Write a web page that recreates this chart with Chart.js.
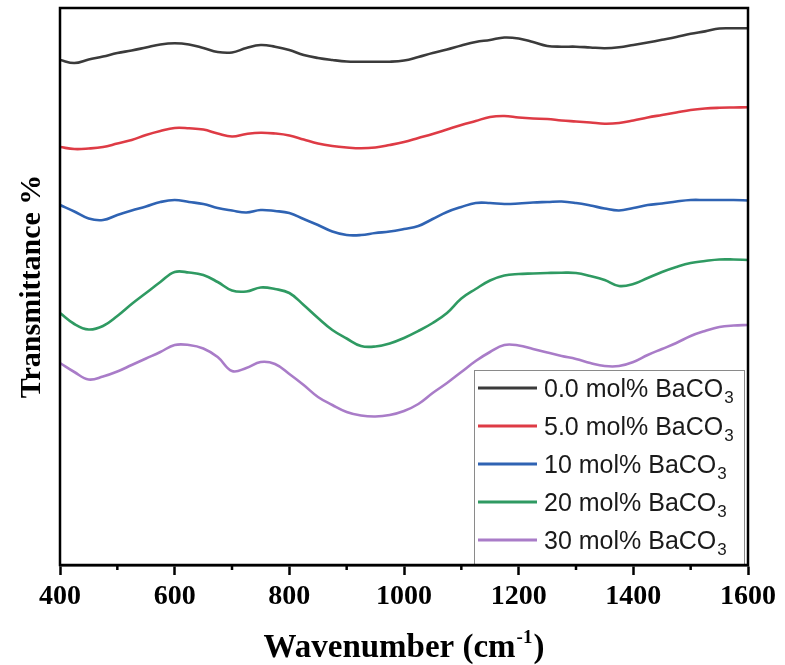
<!DOCTYPE html>
<html>
<head>
<meta charset="utf-8">
<script src="https://cdn.jsdelivr.net/npm/chart.js@4.4.1/dist/chart.umd.min.js"></script>
<style>
  body { margin: 0; background: #fff; }
  #wrap { width: 785px; height: 665px; position: relative; }
</style>
</head>
<body>
<div id="wrap"><canvas id="ftir-chart"></canvas></div>
<script>
var wavenumber = [400, 425, 450, 475, 500, 525, 550, 575, 600, 625, 650, 675, 700, 725, 750, 775, 800, 825, 850, 875,
  900, 925, 950, 975, 1000, 1025, 1050, 1075, 1100, 1125, 1150, 1175, 1200, 1225, 1250, 1275, 1300, 1325, 1350, 1375,
  1400, 1425, 1450, 1475, 1500, 1525, 1550, 1575, 1600];

// transmittance, arbitrary units (curves stacked with offsets)
var ba0 = [505, 502, 505.5, 508.5, 512, 514.5, 517.5, 520.5, 521.7, 520.5, 517, 513, 512.5, 517, 520, 518.3, 515, 510, 507, 505,
  503.5, 503.3, 503.3, 503.3, 504.5, 508, 512, 515.5, 519.5, 523, 525, 527.5, 526.5, 523, 519, 518.3, 518.3, 517.5, 516.8, 517.7,
  520, 522.5, 525.2, 528, 531.3, 533.6, 536.5, 536.7, 536.7];
var ba5 = [418, 416, 416.5, 418, 421.5, 425, 430, 434, 437, 436.7, 435.5, 431.5, 428.5, 431, 432.3, 431.5, 429.5, 425.5, 421.5, 419,
  417.5, 416.7, 417.5, 420, 423, 427, 431, 435.5, 440, 444, 448, 449, 447.5, 446.5, 446, 444.5, 443.5, 442.5, 441.3, 442,
  444.5, 447.5, 450, 452.5, 455, 456.5, 457.2, 457.5, 457.7];
var ba10 = [360, 353.5, 346.5, 345, 350, 354.5, 358.5, 363, 365, 363, 361, 357, 354.5, 352.5, 355, 354, 352, 346, 340, 333.5,
  330, 330, 332, 333.5, 336, 339, 346, 353, 358, 362, 362, 361, 361.5, 362.5, 363, 363.5, 362, 359.5, 356.5, 354.5,
  357, 360, 361.5, 363.5, 365, 365, 365, 365, 364.5];
var ba20 = [252, 241, 235.5, 239, 249, 261, 272, 283, 293, 292.5, 290, 283, 274.5, 273.5, 277.5, 276, 272, 260, 247, 235,
  226.5, 219, 218.5, 221.5, 227, 234, 242, 252, 266.5, 276, 284.5, 289.5, 291, 291.5, 292, 292.3, 292, 289, 285, 279,
  281, 287, 293, 298, 302, 304, 305.5, 305.5, 305];
var ba30 = [202, 193, 185.5, 188.5, 193.5, 200, 206.5, 213, 220, 220, 216.5, 208, 194, 197, 203, 201, 191, 180, 168, 160,
  153, 149.5, 148.5, 150, 154, 161, 172, 182, 193, 204, 213, 220, 219.5, 216, 212.5, 209, 206, 202, 199, 199,
  203, 210, 216, 222, 229, 234, 238, 239.5, 240];

var seriesNames = ['0.0 mol% BaCO', '5.0 mol% BaCO', '10 mol% BaCO', '20 mol% BaCO', '30 mol% BaCO'];
var seriesSub = '3';
var seriesColors = ['#3b3b3b', '#de3b45', '#2f63b3', '#2f9a62', '#a97cc8'];
var minorTicks = [500, 700, 900, 1100, 1300, 1500];

function makeSet(i, vals) {
  var pts = [];
  for (var k = 0; k < wavenumber.length; k++) {
    pts.push({x: wavenumber[k], y: vals[k]});
  }
  return {
    label: seriesNames[i] + seriesSub,
    data: pts,
    borderColor: seriesColors[i],
    backgroundColor: seriesColors[i],
    borderWidth: 2.6,
    pointRadius: 0,
    tension: 0.4,
    fill: false
  };
}

var framePlugin = {
  id: 'frame',
  afterDraw: function (chart) {
    var ctx = chart.ctx;
    var a = chart.chartArea;
    var xs = chart.scales.x;
    ctx.save();

    // minor ticks
    ctx.strokeStyle = '#000';
    ctx.lineWidth = 2.5;
    for (var i = 0; i < minorTicks.length; i++) {
      var px = xs.getPixelForValue(minorTicks[i]);
      ctx.beginPath();
      ctx.moveTo(px, a.bottom);
      ctx.lineTo(px, a.bottom + 5);
      ctx.stroke();
    }

    // legend
    var lx = a.right - 274, ly = a.bottom - 195, lw = 270, lh = 195;
    ctx.fillStyle = '#fff';
    ctx.fillRect(lx, ly, lw, lh);
    ctx.strokeStyle = '#8a8a8a';
    ctx.lineWidth = 1;
    ctx.strokeRect(lx + 0.5, ly + 0.5, lw, lh);
    for (var j = 0; j < seriesNames.length; j++) {
      var ry = ly + 18 + j * 38;
      ctx.strokeStyle = seriesColors[j];
      ctx.lineWidth = 3;
      ctx.beginPath();
      ctx.moveTo(lx + 4, ry);
      ctx.lineTo(lx + 63, ry);
      ctx.stroke();
      ctx.fillStyle = '#1a1a1a';
      ctx.textBaseline = 'alphabetic';
      ctx.textAlign = 'left';
      ctx.font = '25px "Liberation Sans", Arial, sans-serif';
      ctx.fillText(seriesNames[j], lx + 70, ry + 9);
      var tw = ctx.measureText(seriesNames[j]).width;
      ctx.font = '17px "Liberation Sans", Arial, sans-serif';
      ctx.fillText(seriesSub, lx + 71 + tw, ry + 15);
    }

    // plot frame
    ctx.strokeStyle = '#000';
    ctx.lineWidth = 2.5;
    ctx.strokeRect(a.left, a.top, a.right - a.left, a.bottom - a.top);

    // x title with superscript
    ctx.fillStyle = '#000';
    ctx.textBaseline = 'alphabetic';
    ctx.textAlign = 'left';
    var t1 = 'Wavenumber (cm', t2 = '-1', t3 = ')';
    ctx.font = 'bold 33px "Liberation Serif", "Times New Roman", serif';
    var w1 = ctx.measureText(t1).width, w3 = ctx.measureText(t3).width;
    ctx.font = 'bold 19px "Liberation Serif", "Times New Roman", serif';
    var w2 = ctx.measureText(t2).width;
    var sx = (a.left + a.right) / 2 - (w1 + w2 + w3 + 2) / 2;
    ctx.font = 'bold 33px "Liberation Serif", "Times New Roman", serif';
    ctx.fillText(t1, sx, 657);
    ctx.font = 'bold 19px "Liberation Serif", "Times New Roman", serif';
    ctx.fillText(t2, sx + w1 + 1, 643);
    ctx.font = 'bold 33px "Liberation Serif", "Times New Roman", serif';
    ctx.fillText(t3, sx + w1 + w2 + 2, 657);

    // y title
    ctx.translate(40, (a.top + a.bottom) / 2);
    ctx.rotate(-Math.PI / 2);
    ctx.textAlign = 'center';
    ctx.font = 'bold 30px "Liberation Serif", "Times New Roman", serif';
    ctx.fillText('Transmittance %', 0, 0);

    ctx.restore();
  }
};

new Chart(document.getElementById('ftir-chart'), {
  type: 'line',
  data: {
    datasets: [
      makeSet(0, ba0),
      makeSet(1, ba5),
      makeSet(2, ba10),
      makeSet(3, ba20),
      makeSet(4, ba30)
    ]
  },
  options: {
    responsive: true,
    maintainAspectRatio: false,
    animation: false,
    layout: { padding: { left: 60, right: 37, top: 8, bottom: 0 } },
    plugins: {
      legend: { display: false },
      tooltip: { enabled: false }
    },
    scales: {
      x: {
        type: 'linear',
        min: 400,
        max: 1600,
        afterFit: function (s) { s.height = 100; },
        border: { display: true, color: '#000', width: 2.5 },
        grid: { drawOnChartArea: false, tickLength: 10, tickWidth: 2.5, tickColor: '#000' },
        ticks: {
          stepSize: 200,
          padding: 5,
          color: '#000',
          maxRotation: 0,
          callback: function (v) { return String(v); },
          font: { family: '"Liberation Serif", "Times New Roman", serif', size: 28, weight: 'bold' }
        }
      },
      y: {
        type: 'linear',
        display: false,
        min: 0,
        max: 557
      }
    }
  },
  plugins: [framePlugin]
});
</script>
</body>
</html>
